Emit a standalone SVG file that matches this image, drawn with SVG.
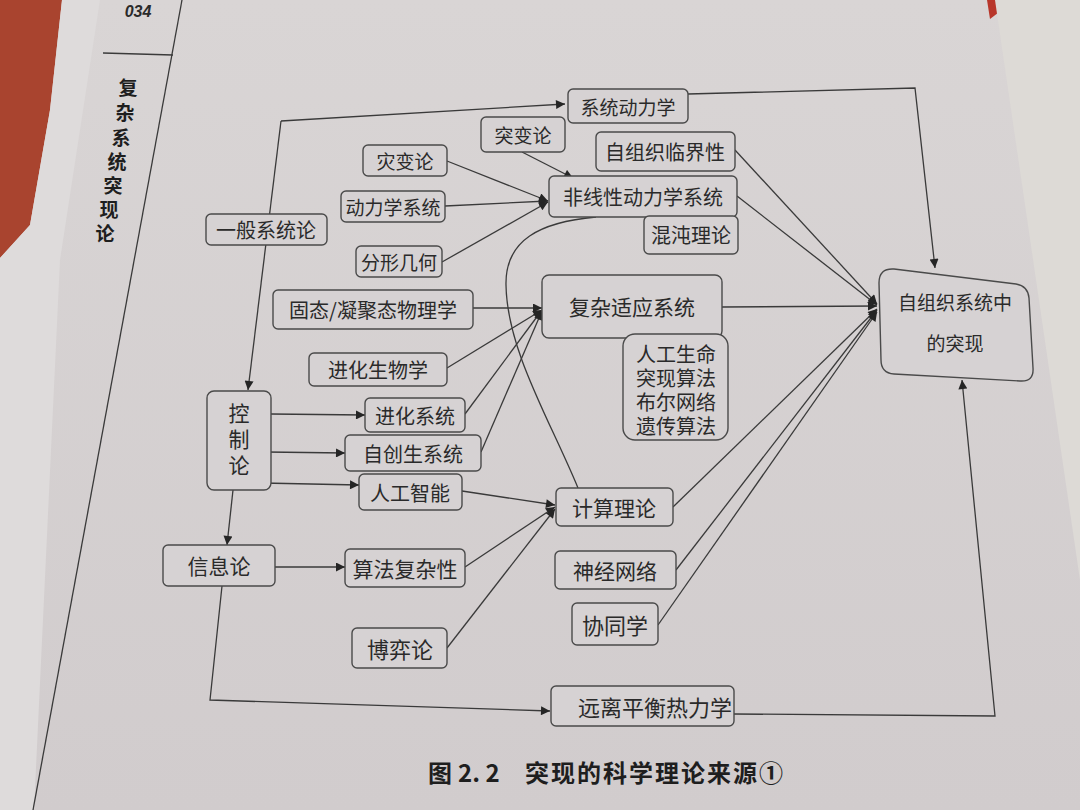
<svg xmlns="http://www.w3.org/2000/svg" width="1080" height="810" viewBox="0 0 1080 810">
<style>
.box{fill:#d6d2d3;stroke:#4a4a4a;stroke-width:1.4}
.t{font-family:"Noto Sans CJK SC","Noto Sans",sans-serif;fill:#2a2a2a;text-anchor:middle;dominant-baseline:central}
.tm{font-family:"Liberation Sans","Noto Sans CJK SC",sans-serif;fill:#2a2a2a;text-anchor:middle}
.ln{fill:none;stroke:#3a3a3a;stroke-width:1.3}
.cap{font-family:"Noto Sans CJK SC","Noto Sans",sans-serif;font-weight:bold;fill:#1e1e1e}
.capm{font-family:"Liberation Sans","Noto Sans CJK SC",sans-serif;font-weight:bold;fill:#1e1e1e;text-anchor:middle}
</style>
<defs>
<marker id="arr" viewBox="0 0 10 10" refX="10" refY="5" markerWidth="12" markerHeight="9" markerUnits="userSpaceOnUse" orient="auto">
<path d="M0,0 L10,5 L0,10 z" fill="#252525"/>
</marker>
<linearGradient id="bg" x1="0" y1="0" x2="0" y2="1">
<stop offset="0" stop-color="#d9d5d5"/>
<stop offset="1" stop-color="#d1cccd"/>
</linearGradient>
</defs>
<g id="background">
<rect x="0" y="0" width="1080" height="810" fill="url(#bg)"/>
<polygon points="0,0 62,0 50,110 30,225 0,258" fill="#a9442f"/>
<polygon points="62,0 100,0 60,260 34,810 0,810 0,258 30,225 50,110" fill="#dedbdb"/>
<polygon points="987,0 1015,0 990,19" fill="#b8362a"/>
<polygon points="995,0 1080,0 1080,580" fill="#dddad6"/>
<line x1="182" y1="0" x2="33" y2="810" stroke="#3a3a3a" stroke-width="1.3"/>
<line x1="103" y1="53" x2="173" y2="55" stroke="#3a3a3a" stroke-width="1.3"/>
<text x="138" y="17" font-family="Liberation Sans, sans-serif" font-style="italic" font-weight="bold" font-size="16" fill="#2a2a2a" text-anchor="middle">034</text>
<text class="capm" font-size="19"><tspan x="128" y="95">复</tspan><tspan x="125" y="120">杂</tspan><tspan x="121" y="145">系</tspan><tspan x="117" y="169">统</tspan><tspan x="113" y="193">突</tspan><tspan x="109" y="217">现</tspan><tspan x="105" y="241">论</tspan></text>
</g>
<g id="connectors">
<path class="ln" d="M281 121 L565 104" marker-end="url(#arr)"/>
<path class="ln" d="M281 121 L248 390" marker-end="url(#arr)"/>
<path class="ln" d="M233 490 L227 545" marker-end="url(#arr)"/>
<path class="ln" d="M222 586 L210 700 L550 711" marker-end="url(#arr)"/>
<path class="ln" d="M275 567 L345 567" marker-end="url(#arr)"/>
<path class="ln" d="M271 414 L365 415" marker-end="url(#arr)"/>
<path class="ln" d="M266 452 L345 453" marker-end="url(#arr)"/>
<path class="ln" d="M262 483 L359 485" marker-end="url(#arr)"/>
<path class="ln" d="M462 491 L555 505" marker-end="url(#arr)"/>
<path class="ln" d="M465 567 L555 507" marker-end="url(#arr)"/>
<path class="ln" d="M447 648 L555 509" marker-end="url(#arr)"/>
<path class="ln" d="M447 161 L548 201" marker-end="url(#arr)"/>
<path class="ln" d="M445 206 L548 201" marker-end="url(#arr)"/>
<path class="ln" d="M442 262 L548 202" marker-end="url(#arr)"/>
<path class="ln" d="M522 152 L573 178" marker-end="url(#arr)"/>
<path class="ln" d="M473 308 L542 308" marker-end="url(#arr)"/>
<path class="ln" d="M447 368 L542 310" marker-end="url(#arr)"/>
<path class="ln" d="M465 414 L542 310" marker-end="url(#arr)"/>
<path class="ln" d="M481 452 L542 311" marker-end="url(#arr)"/>
<path class="ln" d="M596 217 C540 222 505 240 506 285 C507 350 550 420 578 488"/>
<path class="ln" d="M722 307 L877 306" marker-end="url(#arr)"/>
<path class="ln" d="M735 150 L877 304" marker-end="url(#arr)"/>
<path class="ln" d="M737 196 L877 305" marker-end="url(#arr)"/>
<path class="ln" d="M673 507 L877 309" marker-end="url(#arr)"/>
<path class="ln" d="M676 570 L877 310" marker-end="url(#arr)"/>
<path class="ln" d="M658 625 L877 312" marker-end="url(#arr)"/>
<path class="ln" d="M688 94 L915 88 L935 268" marker-end="url(#arr)"/>
<path class="ln" d="M734 714 L995 716 L962 380" marker-end="url(#arr)"/>
</g>
<g id="n-xitongdonglixue"><rect class="box" x="568" y="89" width="120" height="34" rx="5"/><text class="t" x="628" y="106" font-size="19">系统动力学</text></g>
<g id="n-tubianlun"><rect class="box" x="481" y="117" width="84" height="35" rx="5"/><text class="t" x="523" y="134" font-size="19">突变论</text></g>
<g id="n-zaibianlun"><rect class="box" x="363" y="145" width="84" height="31" rx="5"/><text class="t" x="405" y="160" font-size="19">灾变论</text></g>
<g id="n-linjiexing"><rect class="box" x="596" y="132" width="139" height="39" rx="5"/><text class="t" x="665" y="151" font-size="20">自组织临界性</text></g>
<g id="n-donglixuexitong"><rect class="box" x="341" y="191" width="104" height="31" rx="5"/><text class="t" x="393" y="206" font-size="19">动力学系统</text></g>
<g id="n-feixianxing"><rect class="box" x="549" y="176" width="188" height="41" rx="5"/><text class="t" x="643" y="196" font-size="20">非线性动力学系统</text></g>
<g id="n-yibanxitonglun"><rect class="box" x="206" y="214" width="121" height="31" rx="5"/><text class="t" x="266" y="229" font-size="20">一般系统论</text></g>
<g id="n-fenxingjihe"><rect class="box" x="356" y="246" width="86" height="31" rx="5"/><text class="t" x="399" y="261" font-size="19">分形几何</text></g>
<g id="n-hundunlilun"><rect class="box" x="644" y="216" width="94" height="38" rx="5"/><text class="t" x="691" y="234" font-size="20">混沌理论</text></g>
<g id="n-guti"><rect class="box" x="273" y="290" width="200" height="39" rx="5"/><text class="t" x="373" y="309" font-size="20">固态/凝聚态物理学</text></g>
<g id="n-fuzashiying"><rect class="box" x="542" y="275" width="180" height="63" rx="7"/><text class="t" x="632" y="306" font-size="21">复杂适应系统</text></g>
<g id="n-jinhuashengwuxue"><rect class="box" x="309" y="353" width="138" height="33" rx="5"/><text class="t" x="378" y="369" font-size="20">进化生物学</text></g>
<g id="n-rengongshengming"><rect class="box" x="623" y="334" width="105" height="106" rx="12"/>
<text class="tm" font-size="20"><tspan x="676" y="362">人工生命</tspan><tspan x="676" y="386">突现算法</tspan><tspan x="676" y="410">布尔网络</tspan><tspan x="676" y="434">遗传算法</tspan></text></g>
<g id="n-kongzhilun"><rect class="box" x="207" y="391" width="64" height="99" rx="7"/>
<text class="tm" font-size="21"><tspan x="239" y="421">控</tspan><tspan x="239" y="447">制</tspan><tspan x="239" y="473">论</tspan></text></g>
<g id="n-jinhuaxitong"><rect class="box" x="365" y="398" width="100" height="34" rx="5"/><text class="t" x="415" y="415" font-size="20">进化系统</text></g>
<g id="n-zichuangsheng"><rect class="box" x="345" y="435" width="136" height="36" rx="5"/><text class="t" x="413" y="453" font-size="20">自创生系统</text></g>
<g id="n-rengongzhineng"><rect class="box" x="359" y="474" width="103" height="36" rx="5"/><text class="t" x="410" y="492" font-size="20">人工智能</text></g>
<g id="n-jisuanlilun"><rect class="box" x="556" y="488" width="117" height="38" rx="5"/><text class="t" x="614" y="507" font-size="21">计算理论</text></g>
<g id="n-xinxilun"><rect class="box" x="163" y="545" width="112" height="41" rx="5"/><text class="t" x="219" y="565" font-size="21">信息论</text></g>
<g id="n-suanfa"><rect class="box" x="345" y="549" width="120" height="38" rx="5"/><text class="t" x="405" y="568" font-size="21">算法复杂性</text></g>
<g id="n-shenjingwangluo"><rect class="box" x="555" y="551" width="121" height="38" rx="5"/><text class="t" x="615" y="570" font-size="21">神经网络</text></g>
<g id="n-xietongxue"><rect class="box" x="572" y="603" width="86" height="42" rx="5"/><text class="t" x="615" y="624" font-size="22">协同学</text></g>
<g id="n-boyilun"><rect class="box" x="352" y="628" width="95" height="40" rx="5"/><text class="t" x="400" y="648" font-size="22">博弈论</text></g>
<g id="n-yuanli"><rect class="box" x="551" y="686" width="183" height="40" rx="5"/><text class="t" x="655" y="706" font-size="22">远离平衡热力学</text></g>
<g id="n-tuxian"><path class="box" d="M894 269 L1016 284 Q1028 286 1029 298 L1033 368 Q1034 382 1020 381 L894 374 Q881 373 881 360 L879 283 Q879 268 894 269 Z"/>
<text class="t" font-size="19"><tspan x="955" y="301">自组织系统中</tspan><tspan x="955" y="342">的突现</tspan></text></g>
<g id="caption">
<text class="cap" x="428" y="782" font-size="24">图</text>
<text class="cap" x="458" y="782" font-size="24" font-family="Liberation Serif, serif">2. 2</text>
<text class="cap" x="525" y="782" font-size="24" letter-spacing="2">突现的科学理论来源①</text>
</g>
</svg>
